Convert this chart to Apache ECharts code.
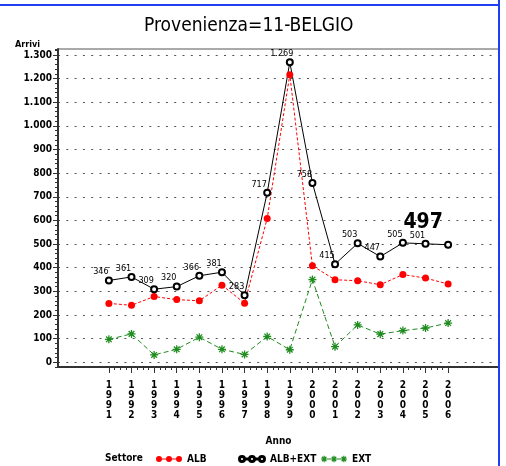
<!DOCTYPE html>
<html>
<head>
<meta charset="utf-8">
<title>Provenienza=11-BELGIO</title>
<script src="https://cdn.jsdelivr.net/npm/echarts@6/dist/echarts.min.js"></script>
<style>
  html, body { margin: 0; padding: 0; background: #fff; }
  #chart { width: 506px; height: 466px; }
</style>
</head>
<body>
<div id="chart"></div>
<script>
"use strict";

// anni (asse x)
const anni = [1991, 1992, 1993, 1994, 1995, 1996, 1997, 1998,
              1999, 2000, 2001, 2002, 2003, 2004, 2005, 2006];
// arrivi per settore
const alb    = [249, 241, 278, 265, 260, 326, 250, 608, 1216, 408, 349, 345, 328, 371, 356, 331];
const albExt = [346, 361, 309, 320, 366, 381, 283, 717, 1269, 758, 415, 503, 447, 505, 501, 497];
const ext    = [97, 120, 31, 55, 106, 55, 33, 109, 53, 350, 66, 158, 119, 134, 145, 166];
// etichette asse y
const tickY = [0, 100, 200, 300, 400, 500, 600, 700, 800, 900, 1000, 1100, 1200, 1300];

const COND = "'DejaVu Sans Condensed', 'Liberation Sans Narrow', sans-serif";

// separatore delle migliaia all'italiana
function fmtIt(v) {
  return String(v).replace(/\B(?=(\d{3})+(?!\d))/g, ".");
}

// tacche secondarie: quattro per anno
const tickMinoriX = [];
anni.forEach((a, i) => {
  tickMinoriX.push(a);
  if (i < anni.length - 1) tickMinoriX.push(a + 0.25, a + 0.5, a + 0.75);
});

// asterisco (8 bracci) come path
function asteriscoPath(cx, cy, r, w) {
  let s = "";
  [0, 45, 90, 135].forEach((deg) => {
    const a = deg * Math.PI / 180, c = Math.cos(a), n = Math.sin(a);
    const pts = [[-r, -w], [r, -w], [r, w], [-r, w]].map(([x, y]) =>
      [(cx + x * c - y * n).toFixed(2), (cy + x * n + y * c).toFixed(2)]);
    s += "M" + pts.map((p) => p.join(",")).join("L") + "Z";
  });
  return s;
}
const cerchio = (cx, cy, r, inv) => inv
  ? `M${cx - r},${cy}A${r},${r} 0 1,0 ${cx + r},${cy}A${r},${r} 0 1,0 ${cx - r},${cy}Z`
  : `M${cx - r},${cy}A${r},${r} 0 1,1 ${cx + r},${cy}A${r},${r} 0 1,1 ${cx - r},${cy}Z`;
const tratto = (x1, x2, cy) => `M${x1},${cy - 0.5}L${x2},${cy - 0.5}L${x2},${cy + 0.5}L${x1},${cy + 0.5}Z`;

const asterisco = "path://" + asteriscoPath(0, 0, 5, 0.8);
// icone della legenda: tre simboli uniti dalla linea
const iconaAlb = "path://" + tratto(3, 23, 4) + cerchio(3, 4, 3) + cerchio(13, 4, 3) + cerchio(23, 4, 3);
const iconaTot = "path://" + tratto(6, 10, 4) + tratto(16, 20, 4) +
  [3, 13, 23].map((x) => cerchio(x, 4, 3) + cerchio(x, 4, 2.1, true)).join("");
const iconaExt = "path://" + tratto(3, 23, 4) +
  [3, 13, 23].map((x) => asteriscoPath(x, 4, 3.2, 0.6)).join("");

const datiAlb = alb.map((v, i) => [anni[i], v]);
const datiTot = albExt.map((v, i) => [anni[i], v]);
const datiExt = ext.map((v, i) => [anni[i], v]);
// l'ultimo valore e' evidenziato in grande
const ultimo = datiTot.length - 1;
datiTot[ultimo] = {
  value: datiTot[ultimo],
  label: { fontSize: 21, fontWeight: "bold", offset: [-25, -8] }
};

const myChart = echarts.init(document.getElementById("chart"), null, { renderer: "canvas" });

const legendaBase = {
  top: 454,
  padding: 0,
  itemWidth: 26,
  itemHeight: 8,
  textStyle: { fontFamily: COND, fontSize: 10, fontWeight: "bold", color: "#000" }
};

const option = {
  animation: false,
  backgroundColor: "#fff",
  title: {
    text: "Provenienza=11-BELGIO",
    left: 139,
    top: 12,
    textStyle: { fontFamily: COND, fontSize: 19, fontWeight: "normal", color: "#000" }
  },
  legend: [
    Object.assign({ data: [{ name: "ALB", icon: iconaAlb }], left: 156 }, legendaBase),
    Object.assign({ data: [{ name: "ALB+EXT", icon: iconaTot }], left: 238 }, legendaBase),
    Object.assign({ data: [{ name: "EXT", icon: iconaExt }], left: 321 }, legendaBase)
  ],
  grid: {
    left: 58,
    right: 7,
    top: 49,
    bottom: 99,
    show: true,
    borderColor: "#555",
    borderWidth: 1,
    backgroundColor: "transparent"
  },
  xAxis: [
    {
      type: "value",
      min: 1988.75,
      max: 2008.25,
      position: "bottom",
      name: "Anno",
      nameLocation: "middle",
      nameGap: 69,
      nameTextStyle: { fontFamily: COND, fontSize: 10, fontWeight: "bold", color: "#000" },
      axisLine: { onZero: false, lineStyle: { color: "#333", width: 2 } },
      axisTick: { customValues: anni, length: 6, lineStyle: { color: "#333" } },
      axisLabel: {
        customValues: anni,
        formatter: (v) => String(v).split("").join("\n"),
        fontFamily: COND,
        fontSize: 10,
        fontWeight: "bold",
        lineHeight: 10,
        margin: 13,
        color: "#000"
      },
      splitLine: { show: false }
    },
    {
      type: "value",
      min: 1988.75,
      max: 2008.25,
      position: "bottom",
      axisLine: { show: false, onZero: false },
      axisTick: { customValues: tickMinoriX, length: 3, lineStyle: { color: "#333" } },
      axisLabel: { show: false },
      splitLine: { show: false }
    }
  ],
  yAxis: [
    {
      type: "value",
      min: -20,
      max: 1325,
      position: "left",
      name: "Arrivi",
      nameLocation: "end",
      nameGap: 0,
      nameTextStyle: {
        fontFamily: COND, fontSize: 9, fontWeight: "bold", color: "#000",
        align: "right", verticalAlign: "bottom", padding: [0, 18, 0, 0]
      },
      axisLine: { show: true, onZero: false, lineStyle: { color: "#333", width: 2 } },
      axisTick: { customValues: tickY, length: 5, lineStyle: { color: "#333" } },
      axisLabel: {
        customValues: tickY,
        formatter: fmtIt,
        fontFamily: COND,
        fontSize: 10,
        fontWeight: "bold",
        margin: 6,
        color: "#000"
      },
      splitLine: { show: true, lineStyle: { type: [2, 6.3], color: "#555", width: 1 } }
    },
    {
      type: "value",
      min: -20,
      max: 1325,
      interval: 20,
      position: "left",
      axisLine: { show: false, onZero: false },
      axisTick: { length: 3, lineStyle: { color: "#333" } },
      axisLabel: { show: false },
      splitLine: { show: false }
    }
  ],
  series: [
    {
      name: "ALB",
      type: "line",
      data: datiAlb,
      symbol: "circle",
      symbolSize: 7,
      itemStyle: { color: "#ff0000" },
      lineStyle: { color: "#ff0000", width: 1, type: [3, 2] }
    },
    {
      name: "ALB+EXT",
      type: "line",
      data: datiTot,
      symbol: "emptyCircle",
      symbolSize: 6,
      itemStyle: { color: "#000", borderColor: "#000", borderWidth: 1 },
      lineStyle: { color: "#000", width: 1 },
      label: {
        show: true,
        position: "top",
        distance: 0,
        offset: [-8, 0],
        fontFamily: COND,
        fontSize: 9,
        color: "#000",
        formatter: (p) => fmtIt(p.value[1])
      }
    },
    {
      name: "EXT",
      type: "line",
      data: datiExt,
      symbol: asterisco,
      symbolSize: 8,
      itemStyle: { color: "#1e8c1e" },
      lineStyle: { color: "#1e8c1e", width: 1, type: [5, 3] }
    }
  ],
  graphic: [
    {
      type: "text",
      left: 105,
      top: 453,
      style: { text: "Settore", font: "bold 10px 'DejaVu Sans Condensed', sans-serif", fill: "#000" }
    },
    // cornice blu
    {
      type: "line",
      z: 100,
      shape: { x1: 0, y1: 5, x2: 500, y2: 5 },
      style: { stroke: "#1f3ff0", lineWidth: 2 }
    },
    {
      type: "line",
      z: 100,
      shape: { x1: 499, y1: 0, x2: 499, y2: 466 },
      style: { stroke: "#1f3ff0", lineWidth: 2 }
    }
  ]
};

myChart.setOption(option);
</script>
</body>
</html>
